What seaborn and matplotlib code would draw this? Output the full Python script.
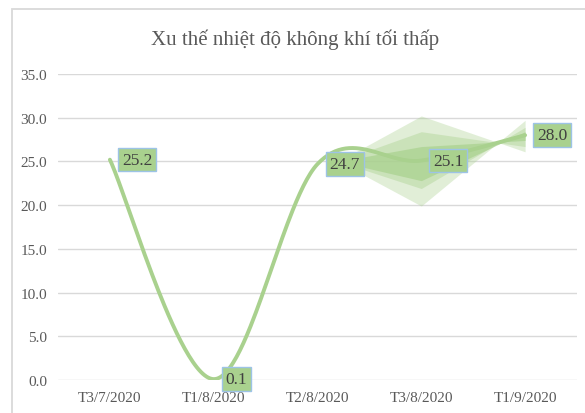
import numpy as np
import pandas as pd
import matplotlib
matplotlib.use("Agg")
import matplotlib.pyplot as plt
from matplotlib.patches import Rectangle
import seaborn as sns

# ---- data ----
categories = ["T3/7/2020", "T1/8/2020", "T2/8/2020", "T3/8/2020", "T1/9/2020"]
values = [25.2, 0.1, 24.7, 25.1, 28.0]
title = "Xu thế nhiệt độ không khí tối thấp"
y_ticks = [0, 5, 10, 15, 20, 25, 30, 35]

# shaded trend bands (position index, edge a, edge b)
band_x = [2.2, 3.0, 4.0]
outer_a = [25.0, 30.2, 26.1]
outer_b = [25.0, 19.9, 29.7]
middle_a = [25.0, 28.4, 26.7]
middle_b = [25.0, 21.9, 28.9]
inner_a = [25.0, 26.7, 27.4]
inner_b = [25.0, 22.8, 28.4]

# ---- style ----
sns.set_style("white")
plt.rcParams["font.family"] = ["Liberation Serif", "DejaVu Serif"]
TEXT = "#595959"
GRID = "#D9D9D9"
LINE = "#A9D18E"

fig = plt.figure(figsize=(5.85, 4.14), dpi=100)
ax = fig.add_axes([58 / 585, 1 - 381 / 414, (577 - 58) / 585, (381 - 75) / 414])


def smooth_curve(xs, ys, n=60):
    """Excel-like smoothed line (Catmull-Rom style cubic Bezier)."""
    xs = np.asarray(xs, float)
    ys = np.asarray(ys, float)
    P = np.column_stack([xs, ys])
    out = []
    for i in range(len(P) - 1):
        p0 = P[i - 1] if i > 0 else P[i]
        p1, p2 = P[i], P[i + 1]
        p3 = P[i + 2] if i + 2 < len(P) else P[i + 1]
        c1 = p1 + (p2 - p0) / 6.0
        c2 = p2 - (p3 - p1) / 6.0
        t = np.linspace(0, 1, n)[:, None]
        seg = ((1 - t) ** 3) * p1 + 3 * ((1 - t) ** 2) * t * c1 + 3 * (1 - t) * t ** 2 * c2 + t ** 3 * p2
        out.append(seg if i == 0 else seg[1:])
    return np.vstack(out)


pos = np.arange(len(categories))
curve = smooth_curve(pos, values)
df_curve = pd.DataFrame({"x": curve[:, 0], "y": curve[:, 1]})
sns.lineplot(data=df_curve, x="x", y="y", sort=False, color=LINE, lw=2.8, ax=ax, zorder=3)

# bands
for a, b, al in [(outer_a, outer_b, 0.35), (middle_a, middle_b, 0.4), (inner_a, inner_b, 0.7)]:
    ax.fill_between(band_x, a, b, color=LINE, alpha=al, lw=0, zorder=4)

# data labels
for x, v in zip(pos, values):
    ax.annotate(f"{v:.1f}", (x, v), xytext=(12, 0), textcoords="offset pixels",
                ha="left", va="center", fontsize=12.5, color="#404040", zorder=6,
                bbox=dict(boxstyle="square,pad=0.22", fc=LINE, ec="#9DC3E6", lw=1.0))

ax.set_xlim(-0.5, len(categories) - 0.5)
ax.set_ylim(0, 35)
ax.set_yticks(y_ticks)
ax.set_yticklabels([f"{t:.1f}" for t in y_ticks])
ax.set_xticks(pos)
ax.set_xticklabels(categories)
ax.tick_params(axis="both", length=0, labelsize=11, labelcolor=TEXT)
ax.tick_params(axis="y", pad=8)
ax.tick_params(axis="x", pad=8)
ax.set_xlabel("")
ax.set_ylabel("")
ax.grid(axis="y", color=GRID, lw=1)
ax.set_axisbelow(True)
for s in ax.spines.values():
    s.set_visible(False)

fig.text(295 / 585, 1 - 40 / 414, title, ha="center", va="center", fontsize=15, color=TEXT)

fig.add_artist(Rectangle((11.5 / 585, -0.2), 1.0, 1.2 - 9.5 / 414, transform=fig.transFigure,
                         fill=False, ec=GRID, lw=1.3))

fig.savefig("out.png", dpi=100, facecolor="white")
